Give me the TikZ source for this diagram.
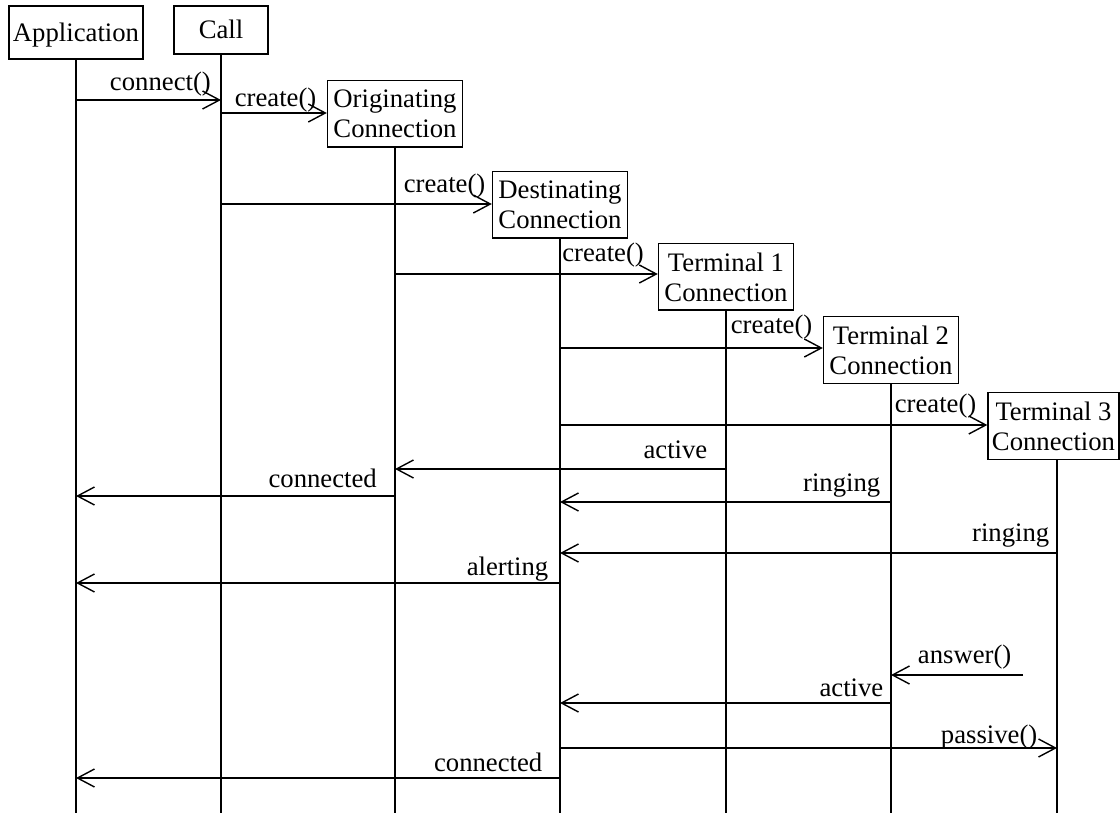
\documentclass[tikz,border=0pt]{standalone}
\usepackage{fontspec}
\setmainfont{Liberation Serif}
\usetikzlibrary{arrows.meta}
\begin{document}
\begin{tikzpicture}[x=1pt,y=-1pt,
  every node/.style={font=\fontsize{26.7}{30}\selectfont},
  head/.style={draw, line width=1.4pt, inner ysep=0pt, inner xsep=4pt, anchor=base},
  obj/.style={draw, line width=1.4pt, align=center, minimum width=135pt, minimum height=66.5pt, inner sep=0pt, anchor=north},
  life/.style={line width=1.4pt},
  msg/.style={line width=1.4pt, -{Straight Barb[length=17pt,width=18pt,line width=1.4pt]}},
  lbl/.style={anchor=base east, inner sep=0pt}]
\useasboundingbox (0,0) rectangle (1120,813);
% objects
\node[head, text height=36pt, text depth=17pt] (app) at (76,42) {Application};
\node[head, text height=33pt, text depth=15pt, minimum width=94pt] (call) at (221,39) {Call};
\node[obj] (orig) at (395,80) {Originating\\Connection};
\node[obj] (dest) at (560,171) {Destinating\\Connection};
\node[obj] (t1) at (726,243) {Terminal 1\\Connection};
\node[obj] (t2) at (891,316) {Terminal 2\\Connection};
\node[obj, minimum width=131pt] (t3) at (1053.5,392) {Terminal 3\\Connection};
\coordinate (t3l) at ([xshift=3.5pt]t3.south);
% lifelines
\draw[life] (app.south) -- (app.south |- 0,813);
\draw[life] (call.south) -- (call.south |- 0,813);
\draw[life] (orig.south) -- (orig.south |- 0,813);
\draw[life] (dest.south) -- (dest.south |- 0,813);
\draw[life] (t1.south) -- (t1.south |- 0,813);
\draw[life] (t2.south) -- (t2.south |- 0,813);
\draw[life] (t3l) -- (t3l |- 0,813);
% messages
\draw[msg] (app |- 0,100) -- (call |- 0,100);
\draw[msg] (call |- 0,113) -- (orig.west |- 0,113);
\draw[msg] (call |- 0,204) -- (dest.west |- 0,204);
\draw[msg] (orig |- 0,274) -- (t1.west |- 0,274);
\draw[msg] (dest |- 0,348) -- (t2.west |- 0,348);
\draw[msg] (dest |- 0,425) -- (t3.west |- 0,425);
\draw[msg] (t1 |- 0,469) -- (orig |- 0,469);
\draw[msg] (orig |- 0,496) -- (app |- 0,496);
\draw[msg] (t2 |- 0,502) -- (dest |- 0,502);
\draw[msg] (t3l |- 0,553) -- (dest |- 0,553);
\draw[msg] (dest |- 0,583) -- (app |- 0,583);
\coordinate (ans) at (1023,675);
\draw[msg] (ans) -- (t2 |- ans);
\draw[msg] (t2 |- 0,703) -- (dest |- 0,703);
\draw[msg] (dest |- 0,748) -- (t3l |- 0,748);
\draw[msg] (dest |- 0,778) -- (app |- 0,778);
% labels
\node[lbl] (l1) at (211,90.5) {connect()};
\node[lbl] (l2) at (316.5,106.5) {create()};
\node[lbl] (l3) at (485.5,192.5) {create()};
\node[lbl] (l4) at (644,261.5) {create()};
\node[lbl] (l5) at (812.5,334) {create()};
\node[lbl] (l6) at (976.5,412) {create()};
\node[lbl] (l7) at (707.5,458) {active};
\node[lbl] (l8) at (377,487) {connected};
\node[lbl] (l9) at (880.5,491.5) {ringing};
\node[lbl] (l10) at (1049.5,541.5) {ringing};
\node[lbl] (l11) at (548.5,575) {alerting};
\node[lbl] (l12) at (1011.5,663) {answer()};
\node[lbl] (l13) at (883.5,696) {active};
\node[lbl] (l14) at (1037.5,743) {passive()};
\node[lbl] (l15) at (542.5,771) {connected};
\end{tikzpicture}
\end{document}
